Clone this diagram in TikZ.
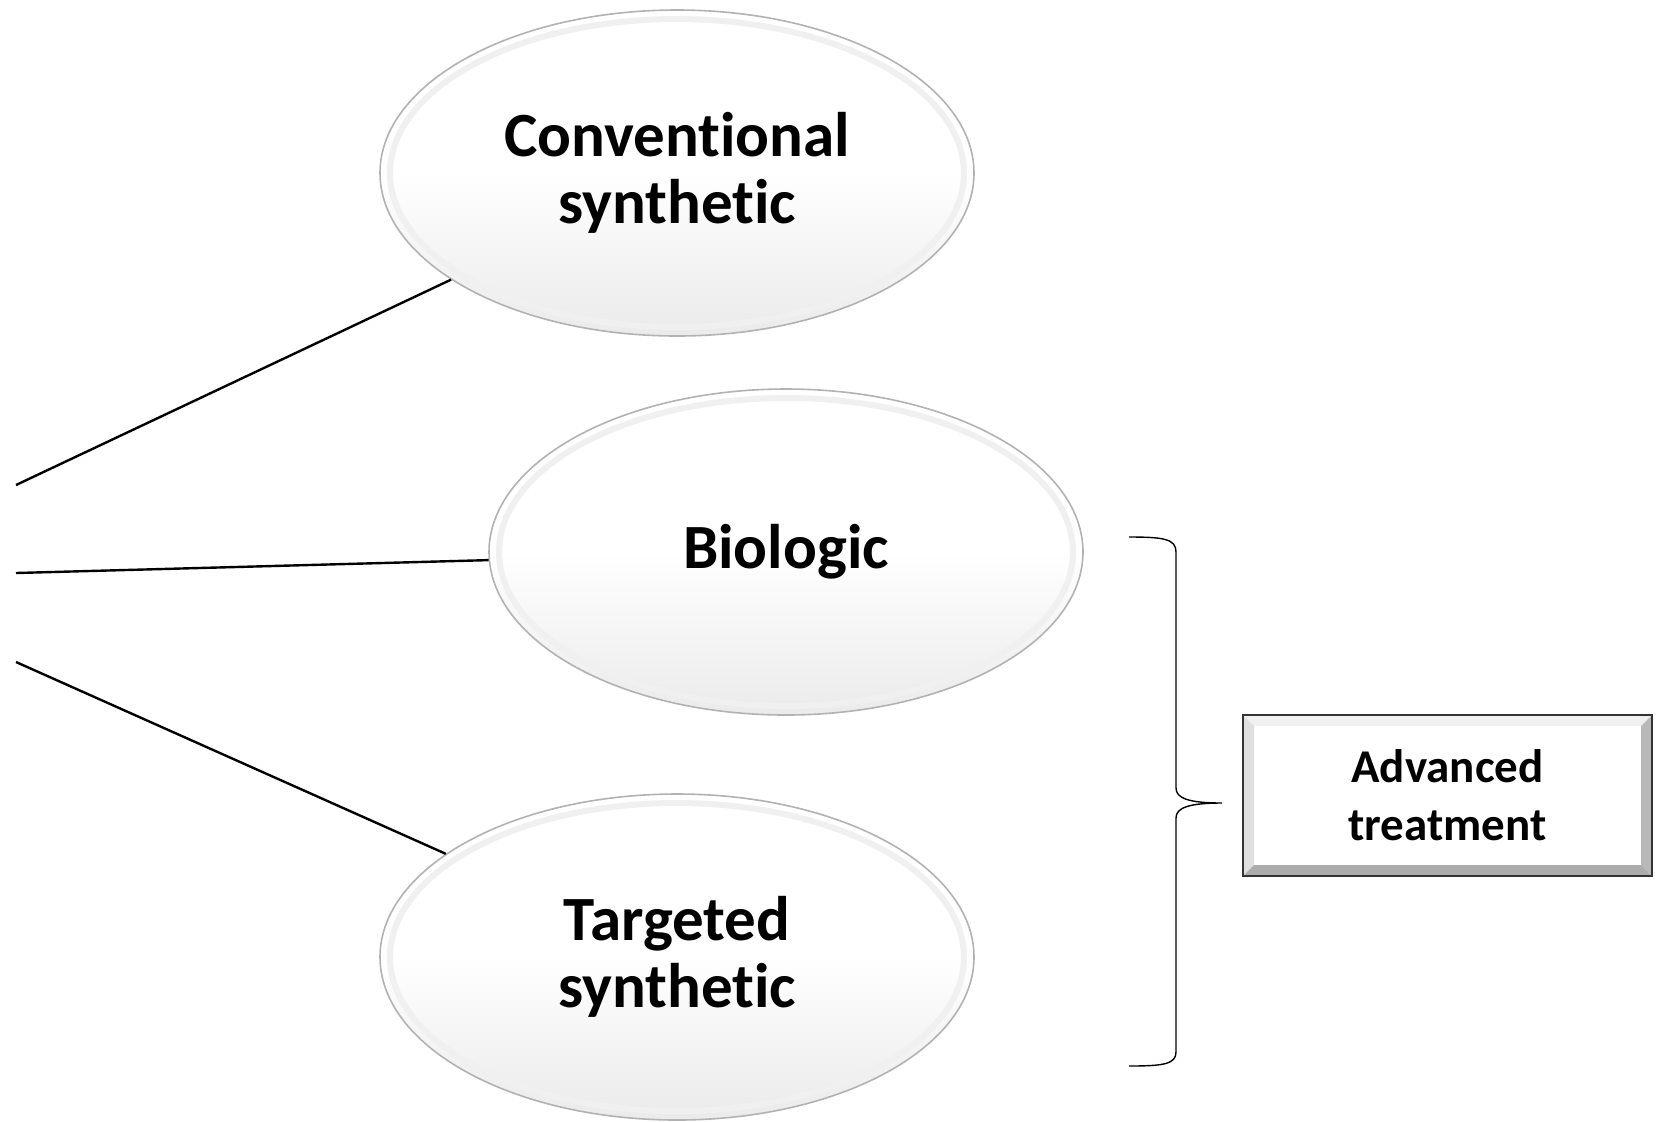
\documentclass[tikz,border=0pt]{standalone}
\usepackage{fontspec}
\setmainfont[Ligatures=NoCommon]{Carlito}
\usetikzlibrary{shapes.geometric}

\begin{document}
\begin{tikzpicture}[x=0.5pt, y=-0.5pt,
        drug/.style={ellipse, draw=gray!60, line width=0.8pt, shading=axis, top color=white, bottom color=gray!16, middle color=white, minimum width=297pt, minimum height=163pt, inner sep=0pt, align=center, font=\bfseries\fontsize{31.5}{33.5}\selectfont,
            path picture={\draw[gray!12, line width=3pt] (path picture bounding box.center) ellipse [x radius=143.5pt, y radius=77pt];}},
        bevelbox/.style={rectangle, draw=black!80, line width=1.2pt, fill=white, minimum width=204.5pt, minimum height=80.5pt, inner sep=0pt, align=center, font=\bfseries\fontsize{23.5}{29}\selectfont,
            path picture={
                \fill[gray!12] (path picture bounding box.north west) -- (path picture bounding box.north east) -- ++(-5.5pt,-5.5pt) -- ([shift={(5.5pt,-5.5pt)}]path picture bounding box.north west) -- cycle;
                \fill[gray!25] (path picture bounding box.north west) -- (path picture bounding box.south west) -- ++(5.5pt,5.5pt) -- ([shift={(5.5pt,-5.5pt)}]path picture bounding box.north west) -- cycle;
                \fill[gray!55] (path picture bounding box.north east) -- (path picture bounding box.south east) -- ++(-5.5pt,5.5pt) -- ([shift={(-5.5pt,-5.5pt)}]path picture bounding box.north east) -- cycle;
                \fill[gray!65] (path picture bounding box.south west) -- (path picture bounding box.south east) -- ++(-5.5pt,5.5pt) -- ([shift={(5.5pt,5.5pt)}]path picture bounding box.south west) -- cycle;
            }},
        link/.style={black, line width=1.2pt},
        bracket/.style={black, line width=0.7pt}
    ]
    \useasboundingbox (0,0) rectangle (1665,1121);

    \node[drug] (conv) at (677,173) {Conventional\\synthetic};
    \node[drug] (bio) at (786,552) {Biologic};
    \node[drug] (tsyn) at (677,957) {Targeted\\synthetic};
    \node[bevelbox] (adv) at (1447.5,795.5) {Advanced\\treatment};

    \coordinate (s1) at (16,485);
    \coordinate (s2) at (16,573);
    \coordinate (s3) at (16,662);
    \draw[link] (s1) -- (conv);
    \draw[link] (s2) -- (bio);
    \draw[link] (s3) -- (tsyn);

    % brace round the advanced group
    \coordinate (brtip) at (1222,803);
    \draw[bracket] (1129,537) .. controls (1164,537) and (1176,539) .. (1176,552) -- (1176,788)
        .. controls (1176,798) and (1188,803) .. (brtip)
        .. controls (1188,803) and (1176,808) .. (1176,818) -- (1176,1052)
        .. controls (1176,1064) and (1164,1066) .. (1129,1066);
\end{tikzpicture}
\end{document}
